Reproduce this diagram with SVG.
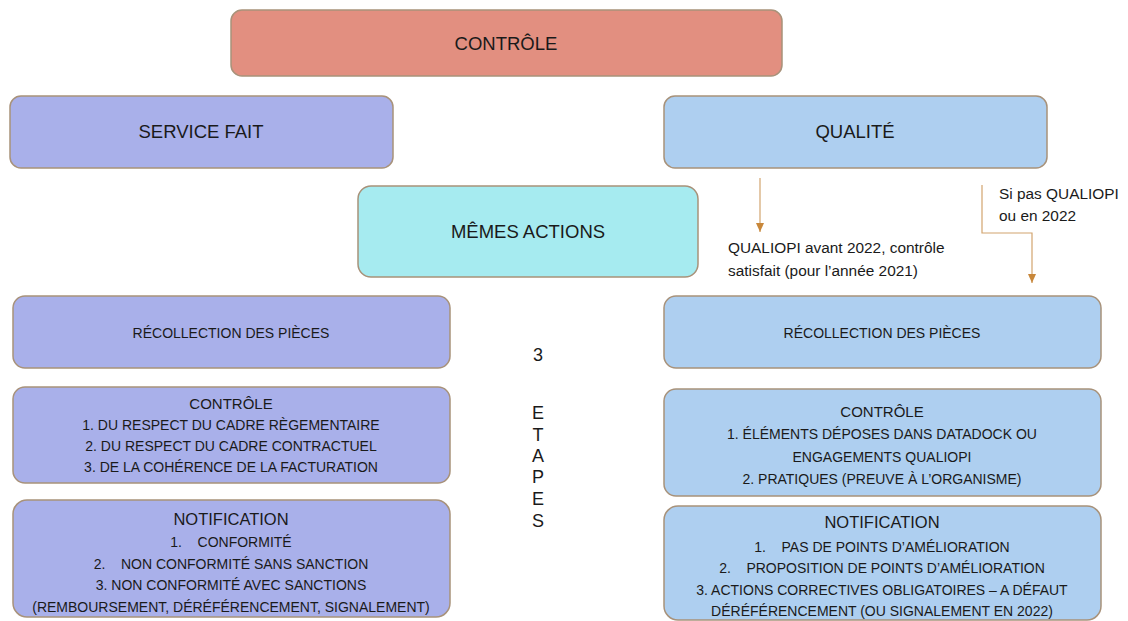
<svg xmlns="http://www.w3.org/2000/svg" width="1128" height="621" viewBox="0 0 1128 621">
<style>
text{font-family:"Liberation Sans","Noto Sans",sans-serif;fill:#1a1a1a;text-anchor:middle}
.box{stroke:#a8927a;stroke-width:1.5}
.red{fill:#e28f80}
.pur{fill:#a9b0ea}
.blu{fill:#aecff0}
.cyn{fill:#a6ebf0}
.t1{font-size:18.5px}
.t2{font-size:14px}
.t3{font-size:16.5px}
.t4{font-size:15px}
.lbl{font-size:15.4px;text-anchor:start}
.et{font-size:18px}
.conn{fill:none;stroke:#d2a46e;stroke-width:1.2}
</style>
<defs>
<marker id="ah" markerWidth="9" markerHeight="8" refX="10" refY="5" orient="auto" markerUnits="userSpaceOnUse" viewBox="0 0 10 10" preserveAspectRatio="none">
<path d="M0,0 L10,5 L0,10 Z" fill="#c8873a"/>
</marker>
</defs>
<g id="n-controle"><rect class="box red" x="231" y="10" width="551" height="66" rx="11"/><text class="t1" x="506" y="50">CONTRÔLE</text></g>
<g id="n-service"><rect class="box pur" x="10" y="96" width="383" height="72" rx="11"/><text class="t1" x="201" y="138">SERVICE FAIT</text></g>
<g id="n-qualite"><rect class="box blu" x="664" y="96" width="383" height="72" rx="11"/><text class="t1" x="855" y="138">QUALITÉ</text></g>
<g id="n-memes"><rect class="box cyn" x="358" y="186" width="340" height="91" rx="13"/><text class="t1" x="528" y="238">MÊMES ACTIONS</text></g>
<g id="n-recol-l"><rect class="box pur" x="13" y="296" width="437" height="72" rx="12"/><text class="t2" x="231" y="338">RÉCOLLECTION DES PIÈCES</text></g>
<g id="n-ctrl-l"><rect class="box pur" x="13" y="387" width="437" height="96" rx="12"/>
<text class="t4" x="231" y="409">CONTRÔLE</text>
<text class="t2" x="231" y="430">1. DU RESPECT DU CADRE RÈGEMENTAIRE</text>
<text class="t2" x="231" y="451">2. DU RESPECT DU CADRE CONTRACTUEL</text>
<text class="t2" x="231" y="472">3. DE LA COHÉRENCE DE LA FACTURATION</text></g>
<g id="n-notif-l"><rect class="box pur" x="13" y="500" width="437" height="117" rx="14"/>
<text class="t3" x="231" y="525">NOTIFICATION</text>
<text class="t2" x="231" y="547" xml:space="preserve">1.    CONFORMITÉ</text>
<text class="t2" x="231" y="569" xml:space="preserve">2.    NON CONFORMITÉ SANS SANCTION</text>
<text class="t2" x="231" y="590">3. NON CONFORMITÉ AVEC SANCTIONS</text>
<text class="t2" x="231" y="612">(REMBOURSEMENT, DÉRÉFÉRENCEMENT, SIGNALEMENT)</text></g>
<g id="n-recol-r"><rect class="box blu" x="664" y="296" width="437" height="72" rx="12"/><text class="t2" x="882" y="338">RÉCOLLECTION DES PIÈCES</text></g>
<g id="n-ctrl-r"><rect class="box blu" x="664" y="389" width="437" height="107" rx="12"/>
<text class="t4" x="882" y="417">CONTRÔLE</text>
<text class="t2" x="882" y="439">1. ÉLÉMENTS DÉPOSES DANS DATADOCK OU</text>
<text class="t2" x="882" y="462">ENGAGEMENTS QUALIOPI</text>
<text class="t2" x="882" y="484">2. PRATIQUES (PREUVE À L’ORGANISME)</text></g>
<g id="n-notif-r"><rect class="box blu" x="664" y="506" width="437" height="114" rx="14"/>
<text class="t3" x="882" y="528">NOTIFICATION</text>
<text class="t2" x="882" y="552" xml:space="preserve">1.    PAS DE POINTS D’AMÉLIORATION</text>
<text class="t2" x="882" y="573" xml:space="preserve">2.    PROPOSITION DE POINTS D’AMÉLIORATION</text>
<text class="t2" x="882" y="595">3. ACTIONS CORRECTIVES OBLIGATOIRES – A DÉFAUT</text>
<text class="t2" x="882" y="616">DÉRÉFÉRENCEMENT (OU SIGNALEMENT EN 2022)</text></g>
<g id="etapes">
<text class="et" x="538" y="361">3</text>
<text class="et" x="538" y="419">E</text>
<text class="et" x="538" y="441">T</text>
<text class="et" x="538" y="462">A</text>
<text class="et" x="538" y="483">P</text>
<text class="et" x="538" y="505">E</text>
<text class="et" x="538" y="527">S</text>
</g>
<g id="connectors">
<path class="conn" d="M760,178 L760,232" marker-end="url(#ah)"/>
<path class="conn" d="M982,185 L982,233 L1032,233 L1032,283" marker-end="url(#ah)"/>
</g>
<g id="labels">
<text class="lbl" x="728" y="253">QUALIOPI avant 2022, contrôle</text>
<text class="lbl" x="728" y="276">satisfait (pour l’année 2021)</text>
<text class="lbl" x="999" y="199">Si pas QUALIOPI</text>
<text class="lbl" x="999" y="221">ou en 2022</text>
</g>
</svg>
